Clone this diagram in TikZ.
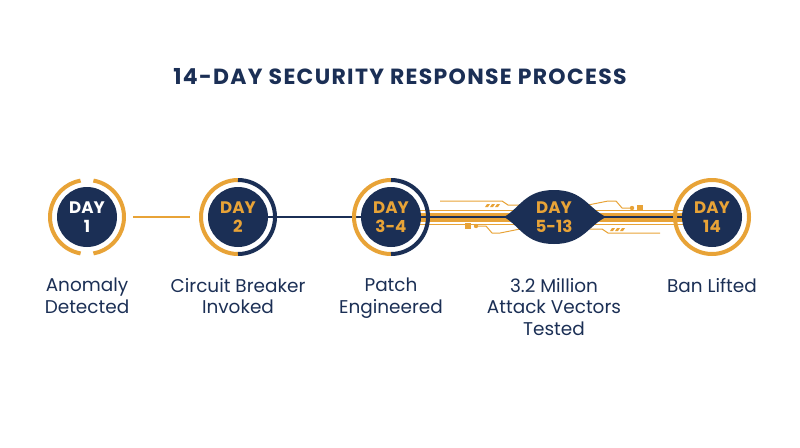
\documentclass[tikz,border=0pt]{standalone}
\usepackage{fontspec}
\setmainfont{Poppins}
\usetikzlibrary{positioning}
\definecolor{navy}{HTML}{1B2F55}
\definecolor{gold}{HTML}{E8A337}
\tikzset{
  day/.style={circle, fill=navy, minimum size=60\unitpx, inner sep=0pt, align=center,
    font=\fontsize{9.5}{10.5}\selectfont\bfseries, text=gold},
  lbl/.style={align=center, font=\fontsize{10.5}{12.2}\selectfont, text=navy, anchor=north},
  ring/.style={line width=4\unitpx},
}
\newlength{\unitpx}
\setlength{\unitpx}{0.02cm}
\begin{document}
\begin{tikzpicture}[x=0.02cm, y=-0.02cm]
\useasboundingbox (0,0) rectangle (800,447);
\node[font=\fontsize{12.5}{15}\selectfont\bfseries, text=navy] (title) at (400,77) {\addfontfeature{LetterSpace=6}14-DAY SECURITY RESPONSE PROCESS};
% connectors and bands
\fill[gold] (400,212.5) rectangle (700,221.5);
\draw[gold, line width=1\unitpx] (405,210) -- (700,210);
\draw[gold, line width=1\unitpx] (405,224) -- (700,224);
\draw[gold, line width=1.5\unitpx] (133,217) -- (190,217);
\draw[navy, line width=1.5\unitpx] (260,217) -- (690,217);
% circuit traces
\draw[gold, line width=1\unitpx] (520,205) -- (508,205) -- (502,201) -- (440,201);
\draw[gold, line width=1\unitpx] (588,205) -- (608,201) -- (616,201) -- (622,208) -- (630,208);
\fill[gold] (632,208) circle (2.2);
\fill[gold] (637,205) rectangle (643,211);
\draw[gold, line width=1\unitpx] (520,229) -- (500,233) -- (492,233) -- (486,226) -- (478,226);
\fill[gold] (476,226) circle (2.2);
\fill[gold] (465,223) rectangle (471,229);
\draw[gold, line width=1\unitpx] (590,229) -- (602,229) -- (608,233) -- (660,233);
\foreach \i in {0,1,2}{
  \fill[gold] (485+5*\i,207) -- ++(3,0) -- ++(2,-3) -- ++(-3,0) -- cycle;
  \fill[gold] (610+5*\i,231) -- ++(3,0) -- ++(2,-3) -- ++(-3,0) -- cycle;
}
% blob
\fill[navy] (504,217) .. controls (520,208) and (525,190) .. (554,190)
  .. controls (583,190) and (588,208) .. (606,217)
  .. controls (588,226) and (583,244) .. (554,244)
  .. controls (525,244) and (520,226) .. (504,217) -- cycle;
\node[day, fill=none] (d5) at (554,217) {DAY\\5-13};
% circles
\node[day, text=white] (d1) at (87,217) {DAY\\1};
\draw[ring, gold] ([shift={(100:37)}]87,217) arc[start angle=100, end angle=260, radius=37];
\draw[ring, gold] ([shift={(-80:37)}]87,217) arc[start angle=-80, end angle=80, radius=37];
\node[day] (d2) at (238,217) {DAY\\2};
\draw[ring, gold] ([shift={(90:37)}]238,217) arc[start angle=90, end angle=270, radius=37];
\draw[ring, navy] ([shift={(-90:37)}]238,217) arc[start angle=-90, end angle=90, radius=37];
\node[day] (d3) at (391,217) {DAY\\3-4};
\draw[ring, gold] ([shift={(90:37)}]391,217) arc[start angle=90, end angle=270, radius=37];
\draw[ring, navy] ([shift={(-90:37)}]391,217) arc[start angle=-90, end angle=90, radius=37];
\node[day] (d14) at (712,217) {DAY\\14};
\draw[ring, gold] (712,217) circle (37);
% labels
\node[lbl] (l1) at (87,272) {Anomaly\\Detected};
\node[lbl] (l2) at (238,272) {Circuit Breaker\\Invoked};
\node[lbl] (l3) at (391,272) {Patch\\Engineered};
\node[lbl] (l5) at (554,272) {3.2 Million\\Attack Vectors\\Tested};
\node[lbl] (l14) at (712,272) {Ban Lifted};
\end{tikzpicture}
\end{document}
